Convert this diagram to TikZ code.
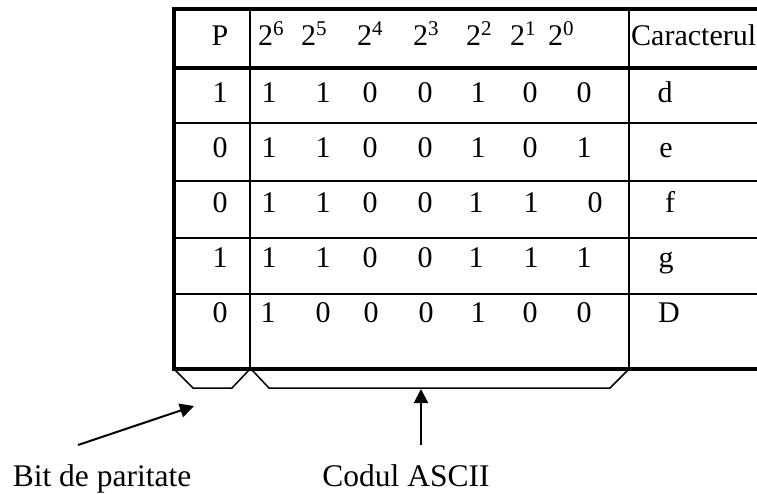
\documentclass[tikz,border=0pt]{standalone}
\usepackage{fontspec}
\setmainfont{Liberation Serif}
\usetikzlibrary{arrows.meta}
\begin{document}
\begin{tikzpicture}[x=1pt, y=-1pt,
  every node/.style={font=\fontsize{30}{36}\selectfont, inner sep=0pt, anchor=base},
  caption/.style={font=\fontsize{31.5}{38}\selectfont},
  thickrule/.style={line width=3.5pt},
  thinrule/.style={line width=2pt},
  bracket/.style={line width=1.5pt},
  pointer/.style={line width=2pt, -{Triangle[length=14pt,width=14pt]}}]
  \useasboundingbox (0,0) rectangle (757,493);
  % table frame
  \draw[thickrule] (174,9) -- (757,9);
  \draw[thickrule] (174,68) -- (757,68);
  \draw[thickrule] (174,369) -- (757,369);
  \draw[thickrule] (174,7.25) -- (174,370.75);
  \draw[thinrule] (174,123) -- (757,123);
  \draw[thinrule] (174,181) -- (757,181);
  \draw[thinrule] (174,238) -- (757,238);
  \draw[thinrule] (174,294) -- (757,294);
  \draw[thinrule] (250,9) -- (250,369);
  \draw[thinrule] (629,9) -- (629,369);
  % header
  \node (hp) at (220,45) {P};
  \node (h6) at (271,45) {2\textsuperscript{6}};
  \node (h5) at (314,45) {2\textsuperscript{5}};
  \node (h4) at (370,45) {2\textsuperscript{4}};
  \node (h3) at (426,45) {2\textsuperscript{3}};
  \node (h2) at (479,45) {2\textsuperscript{2}};
  \node (h1) at (523,45) {2\textsuperscript{1}};
  \node (h0) at (561,45) {2\textsuperscript{0}};
  \node[anchor=base west] (hc) at (631,45) {Caracterul};
  % row d
  \node (ap) at (220,102) {1};
  \node (a6) at (269,102) {1}; \node (a5) at (323,102) {1}; \node (a4) at (370,102) {0}; \node (a3) at (425,102) {0};
  \node (a2) at (478,102) {1}; \node (a1) at (530,102) {0}; \node (a0) at (584,102) {0};
  \node (ac) at (665,102) {d};
  % row e
  \node (bp) at (220,157) {0};
  \node (b6) at (269,157) {1}; \node (b5) at (323,157) {1}; \node (b4) at (370,157) {0}; \node (b3) at (425,157) {0};
  \node (b2) at (478,157) {1}; \node (b1) at (530,157) {0}; \node (b0) at (584,157) {1};
  \node (bc) at (666,157) {e};
  % row f
  \node (cp) at (220,212) {0};
  \node (c6) at (269,212) {1}; \node (c5) at (323,212) {1}; \node (c4) at (370,212) {0}; \node (c3) at (425,212) {0};
  \node (c2) at (476,212) {1}; \node (c1) at (531,212) {1}; \node (c0) at (595,212) {0};
  \node (cc) at (670,212) {f};
  % row g
  \node (dp) at (220,267) {1};
  \node (d6) at (269,267) {1}; \node (d5) at (323,267) {1}; \node (d4) at (370,267) {0}; \node (d3) at (425,267) {0};
  \node (d2) at (476,267) {1}; \node (d1) at (531,267) {1}; \node (d0) at (584,267) {1};
  \node (dc) at (666,267) {g};
  % row D
  \node (ep) at (220,322) {0};
  \node (e6) at (268,322) {1}; \node (e5) at (323,322) {0}; \node (e4) at (371,322) {0}; \node (e3) at (426,322) {0};
  \node (e2) at (478,322) {1}; \node (e1) at (530,322) {0}; \node (e0) at (584,322) {0};
  \node (ec) at (669,322) {D};
  % brackets under the columns
  \draw[bracket] (174,369) -- (193,388) -- (232,388) -- (250,369);
  \draw[bracket] (252,370) -- (269,388) -- (610,388) -- (629,369);
  % labels and pointers
  \node[caption] (bit) at (102,486) {Bit de paritate};
  \node[caption] (ascii) at (406,486) {Codul ASCII};
  \coordinate (bitfrom) at (78,445);
  \coordinate (bitto) at (194,406);
  \coordinate (asciifrom) at (421,445);
  \coordinate (asciito) at (421,389);
  \draw[pointer] (bitfrom) -- (bitto);
  \draw[pointer] (asciifrom) -- (asciito);
\end{tikzpicture}
\end{document}
